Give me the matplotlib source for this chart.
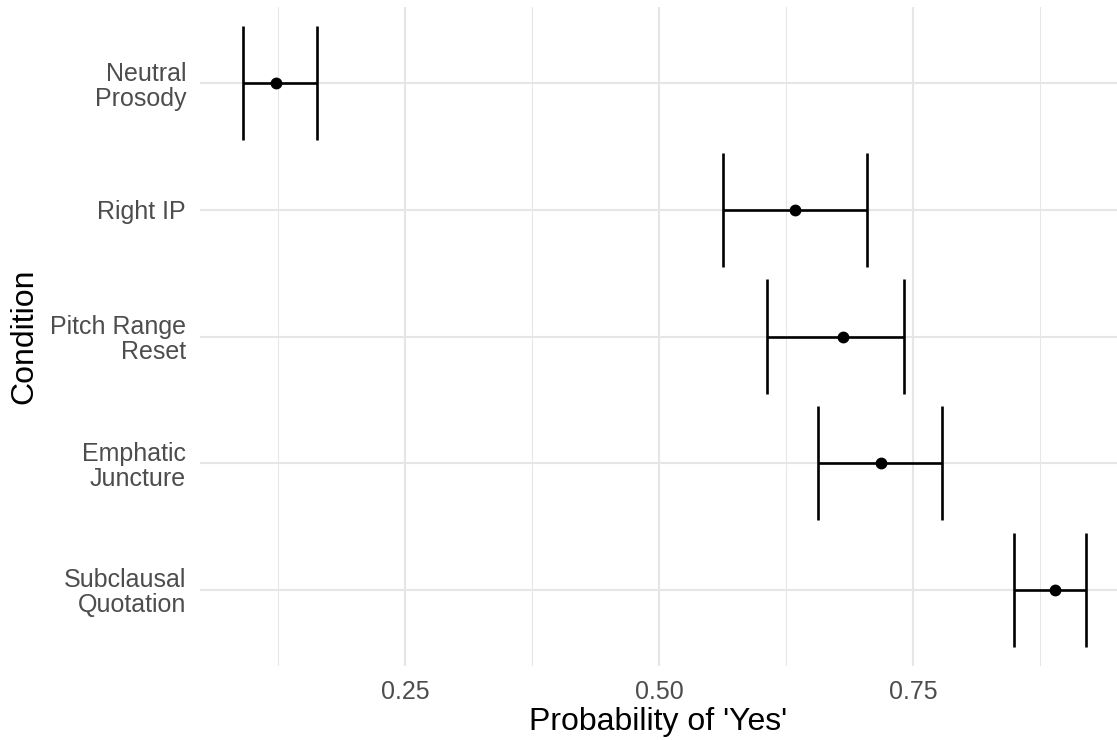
import numpy as np
import matplotlib
matplotlib.use('Agg')
import matplotlib.pyplot as plt
from matplotlib.ticker import MultipleLocator

plt.rcParams['font.family'] = ['Liberation Sans', 'DejaVu Sans']

# 조건별 'Yes' 응답 확률 (점 추정치 + 구간)
conditions = ['Neutral\nProsody', 'Right IP', 'Pitch Range\nReset',
              'Emphatic\nJuncture', 'Subclausal\nQuotation']
prob = [0.123, 0.634, 0.681, 0.719, 0.890]
lower = [0.090, 0.563, 0.606, 0.657, 0.850]
upper = [0.163, 0.705, 0.741, 0.779, 0.920]

fig = plt.figure(figsize=(11.17, 7.40), dpi=100)
ax = fig.add_axes([0.179, 0.1, 0.821, 0.8905])

ypos = np.arange(len(conditions))[::-1]  # 위에서부터 차례로

# 에러바 (가로선 + 세로 cap)
for y, lo, hi in zip(ypos, lower, upper):
    ax.plot([lo, hi], [y, y], color='black', lw=1.9, zorder=3, solid_capstyle='butt')
    ax.plot([lo, lo], [y - 0.45, y + 0.45], color='black', lw=1.9, zorder=3, solid_capstyle='butt')
    ax.plot([hi, hi], [y - 0.45, y + 0.45], color='black', lw=1.9, zorder=3, solid_capstyle='butt')
ax.plot(prob, ypos, 'o', color='black', ms=7.5, zorder=4)

ax.set_xlim(0.048, 0.951)
ax.set_ylim(-0.6, len(conditions) - 1 + 0.6)
ax.xaxis.set_major_locator(MultipleLocator(0.25))
ax.xaxis.set_minor_locator(MultipleLocator(0.125))
ax.set_xticks([0.25, 0.50, 0.75])
ax.set_xticklabels(['0.25', '0.50', '0.75'])
ax.set_yticks(ypos)
ax.set_yticklabels(conditions, ha='right', linespacing=1.05)

ax.grid(which='major', color='#E6E6E6', lw=1.5)
ax.grid(which='minor', axis='x', color='#E6E6E6', lw=0.75)
ax.set_axisbelow(True)
for s in ax.spines.values():
    s.set_visible(False)
ax.tick_params(which='both', length=0, labelsize=18, labelcolor='#4D4D4D')
ax.tick_params(axis='y', pad=10)
ax.tick_params(axis='x', pad=10)

ax.set_xlabel("Probability of 'Yes'", fontsize=23, labelpad=2)
ax.set_ylabel('Condition', fontsize=23, labelpad=8)

fig.savefig('out.png', dpi=100)
